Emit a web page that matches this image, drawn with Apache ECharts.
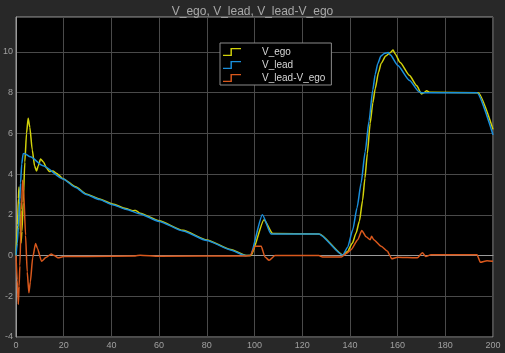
<!DOCTYPE html>
<html>
<head>
<meta charset="utf-8">
<script src="https://cdn.jsdelivr.net/npm/echarts@6/dist/echarts.min.js"></script>
<style>
html,body{margin:0;padding:0;background:#282828;}
#c{width:505px;height:353px;}
</style>
</head>
<body>
<div id="c"></div>
<script>
var titleText = 'V_ego, V_lead, V_lead-V_ego';
var seriesNames = ['V_ego', 'V_lead', 'V_lead-V_ego'];
var xTicks = [0, 20, 40, 60, 80, 100, 120, 140, 160, 180, 200];
var yTicks = [-4, -2, 0, 2, 4, 6, 8, 10];

var vEgo = [[0,0],[0.6,1.5],[1.0,2.8],[1.25,3.37],[1.5,2.8],[1.8,1.2],[2.1,0.62],[2.5,1.2],[3,2.6],[3.7,4.6],[4.4,6.0],[5.1,6.75],[5.8,6.3],[6.8,5.2],[7.8,4.4],[8.6,4.15],[9.3,4.4],[10.3,4.74],[11.5,4.6],[12.8,4.3],[14,4.13],[15.5,4.15],[16.9,4.05],[19.7,3.78],[25,3.38],[29.4,3.03],[35,2.78],[40.5,2.53],[46,2.31],[49,2.2],[50.2,2.22],[52,2.08],[60,1.71],[70,1.24],[80,0.77],[90,0.3],[96.5,0.0],[98.5,0.0],[104,1.76],[107.6,1.08],[127.2,1.06],[137.2,0.02],[139,0.2],[141,0.6],[142.6,1.11],[144,1.7],[145.3,2.7],[146.3,3.8],[147.3,5.0],[148.5,6.5],[149.6,7.5],[150.6,8.2],[152,9.0],[153.1,9.44],[155,9.8],[157,9.98],[158.1,10.1],[159,9.9],[161,9.5],[165,8.85],[168,8.35],[170,7.94],[171,8.0],[172.2,8.1],[173.5,8.02],[193.8,8.0],[200,6.2]];

var vLead = [[0,0],[0.5,0.6],[1,1.4],[1.5,2.6],[1.9,3.56],[2.4,4.5],[3.0,5.0],[3.5,5.02],[6,4.85],[11.4,4.41],[19.7,3.76],[25,3.35],[29.4,3.0],[35,2.75],[40.5,2.5],[46,2.28],[51.7,2.06],[60,1.68],[70,1.21],[80,0.74],[90,0.28],[96,0.0],[98.2,0.0],[103.3,2.01],[106.9,1.06],[127,1.06],[137,0.02],[139,0.4],[141.2,1.27],[143,2.35],[144.7,3.56],[146.4,5.1],[148,6.6],[149.6,8.14],[150.6,8.9],[151.7,9.44],[153,9.8],[154.4,9.93],[156.1,9.97],[157,9.85],[160,9.35],[165,8.6],[169,8.05],[170,8.0],[193.3,8.0],[200,5.93]];

var vDiff = [[0,0],[0.5,-1.2],[0.96,-2.4],[1.3,-1.5],[1.6,-0.5],[2.3,2.25],[2.75,3.7],[3.2,3.2],[4.0,1.0],[4.7,-0.8],[5.4,-1.83],[6.0,-1.3],[7.0,-0.1],[8.2,0.59],[9.0,0.35],[10.7,-0.28],[12.5,-0.1],[14.8,0.08],[16,0.0],[17.6,-0.11],[20,-0.05],[30,-0.04],[50,-0.02],[52,0.02],[60,-0.03],[96,-0.02],[98.2,0.0],[100.3,0.46],[102.8,0.46],[104.4,-0.07],[106.1,-0.23],[108.6,0.0],[127,0.0],[128.5,-0.07],[136.4,-0.07],[138.5,0.1],[140.5,0.29],[143.3,0.78],[145,1.23],[146.8,0.92],[148.5,0.78],[149.1,0.95],[150,0.78],[153.1,0.46],[155.8,0.21],[156.9,-0.03],[157.5,-0.16],[160,-0.08],[164.2,-0.1],[168.3,-0.11],[170.4,0.14],[171.8,-0.05],[174,0.04],[193.3,0.04],[194.7,-0.33],[197.5,-0.25],[200,-0.28]];

var colors = ['#d2d20a', '#1a8fdc', '#d9581c'];
var seriesData = [vEgo, vLead, vDiff];

var chart = echarts.init(document.getElementById('c'), null, {renderer: 'canvas'});
var series = seriesNames.map(function (n, i) {
  return {
    name: n,
    type: 'line',
    data: seriesData[i],
    showSymbol: false,
    smooth: 0.2,
    smoothMonotone: 'x',
    lineStyle: {color: colors[i], width: 1.5},
    itemStyle: {color: colors[i]},
    animation: false
  };
});

chart.setOption({
  backgroundColor: '#282828',
  animation: false,
  title: {
    text: titleText,
    left: 'center',
    top: 1,
    textStyle: {color: '#a8a8a8', fontSize: 12, fontWeight: 'normal', fontFamily: 'Liberation Sans, Arial, sans-serif'}
  },
  legend: {
    data: seriesNames,
    orient: 'vertical',
    left: 220,
    top: 43,
    padding: [4, 6, 2, 3],
    itemGap: 3,
    itemWidth: 18,
    itemHeight: 8,
    symbolKeepAspect: false,
    icon: 'path://M0,9 L8.3,9 L8.3,0 L20,0 L20,1.6 L9.9,1.6 L9.9,10.6 L0,10.6 Z',
    lineStyle: {width: 0},
    backgroundColor: '#000',
    borderColor: '#8a8a8a',
    borderWidth: 1,
    borderRadius: 0,
    textStyle: {color: '#d6d6d6', fontSize: 10, fontFamily: 'Liberation Sans, Arial, sans-serif', padding: [0, 0, 0, 16]}
  },
  grid: {
    left: 13, right: 12, top: 17, bottom: 16,
    show: true,
    backgroundColor: '#000',
    borderColor: '#9a9a9a',
    borderWidth: 1,
    containLabel: false
  },
  xAxis: {
    type: 'value',
    min: xTicks[0],
    max: xTicks[xTicks.length - 1],
    interval: 20,
    axisLine: {show: true, lineStyle: {color: '#9a9a9a'}},
    axisTick: {show: false},
    splitLine: {show: true, lineStyle: {color: '#4a4a4a', width: 1}},
    axisLabel: {color: '#a0a0a0', fontSize: 9, margin: 4, fontFamily: 'Liberation Sans, Arial, sans-serif'}
  },
  yAxis: {
    type: 'value',
    min: yTicks[0],
    max: 11.72,
    interval: 2,
    axisLine: {show: true, lineStyle: {color: '#9a9a9a'}},
    axisTick: {show: false},
    splitLine: {show: true, lineStyle: {color: '#4a4a4a', width: 1}},
    axisLabel: {color: '#a0a0a0', fontSize: 9, margin: 3, showMaxLabel: false, fontFamily: 'Liberation Sans, Arial, sans-serif'}
  },
  series: series
});
</script>
</body>
</html>
